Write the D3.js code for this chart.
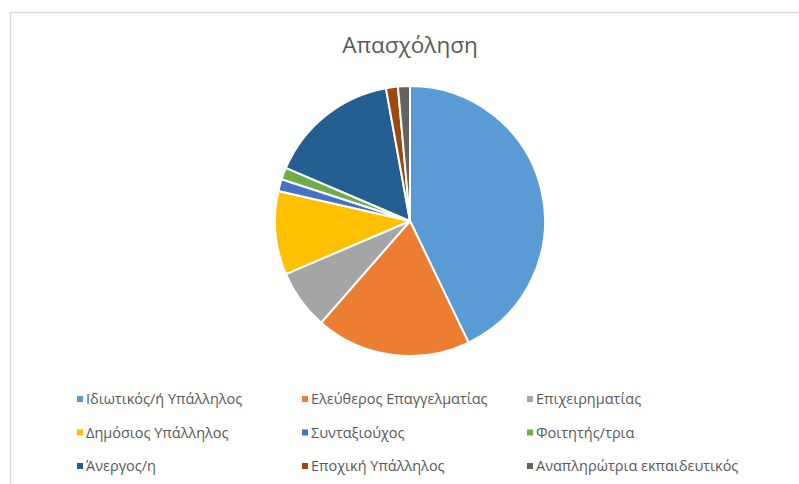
<!DOCTYPE html>
<html>
<head>
<meta charset="utf-8">
<script src="https://cdn.jsdelivr.net/npm/d3@7"></script>
<style>
  body { margin: 0; background: #fff; }
  svg { display: block; }
</style>
</head>
<body>
<div id="chart"></div>
<script>
// Datos del gráfico
const categorias = [
  'Ιδιωτικός/ή Υπάλληλος', 'Ελεύθερος Επαγγελματίας', 'Επιχειρηματίας',
  'Δημόσιος Υπάλληλος', 'Συνταξιούχος', 'Φοιτητής/τρια',
  'Άνεργος/η', 'Εποχική Υπάλληλος', 'Αναπληρώτρια εκπαιδευτικός'
];
const valores = [30, 13, 5, 7, 1, 1, 11, 1, 1];
const colores = ['#5B9BD5', '#ED7D31', '#A5A5A5', '#FFC000', '#4472C4', '#70AD47', '#255E91', '#9E480E', '#636363'];
const titulo = 'Απασχόληση';

const width = 799;
const height = 484;

const svg = d3.select('#chart')
  .append('svg')
  .attr('width', width)
  .attr('height', height);

// Marco del gráfico
svg.append('rect')
  .attr('x', 10.5)
  .attr('y', 12.5)
  .attr('width', 820)
  .attr('height', 500)
  .attr('fill', '#fff')
  .attr('stroke', '#d9d9d9')
  .attr('stroke-width', 1.5);

// Título
svg.append('text')
  .attr('x', 410)
  .attr('y', 53)
  .attr('text-anchor', 'middle')
  .attr('font-family', '"Open Sans", sans-serif')
  .attr('font-size', 22.5)
  .attr('fill', '#595959')
  .text(titulo);

// Pastel
const cx = 410, cy = 221, radio = 135;
const pie = d3.pie().sort(null).value(d => d);
const arc = d3.arc().innerRadius(0).outerRadius(radio);

const g = svg.append('g').attr('transform', `translate(${cx},${cy})`);
g.selectAll('path')
  .data(pie(valores))
  .join('path')
  .attr('d', arc)
  .attr('fill', (d, i) => colores[i])
  .attr('stroke', '#fff')
  .attr('stroke-width', 2)
  .attr('stroke-linejoin', 'round');

// Leyenda (3 columnas)
const colX = d3.scalePoint().domain([0, 1, 2]).range([80, 530]);
const filaY = d3.scalePoint().domain([0, 1, 2]).range([399, 466]);

const leyenda = svg.append('g')
  .selectAll('g')
  .data(categorias)
  .join('g')
  .attr('transform', (d, i) => `translate(${colX(i % 3)},${filaY(Math.floor(i / 3))})`);

leyenda.append('rect')
  .attr('x', -3)
  .attr('y', -3)
  .attr('width', 6)
  .attr('height', 6)
  .attr('fill', (d, i) => colores[i]);

leyenda.append('text')
  .attr('x', 6)
  .attr('dy', '0.35em')
  .attr('font-family', '"Open Sans", sans-serif')
  .attr('font-size', 14.5)
  .attr('fill', '#595959')
  .text(d => d);
</script>
</body>
</html>
